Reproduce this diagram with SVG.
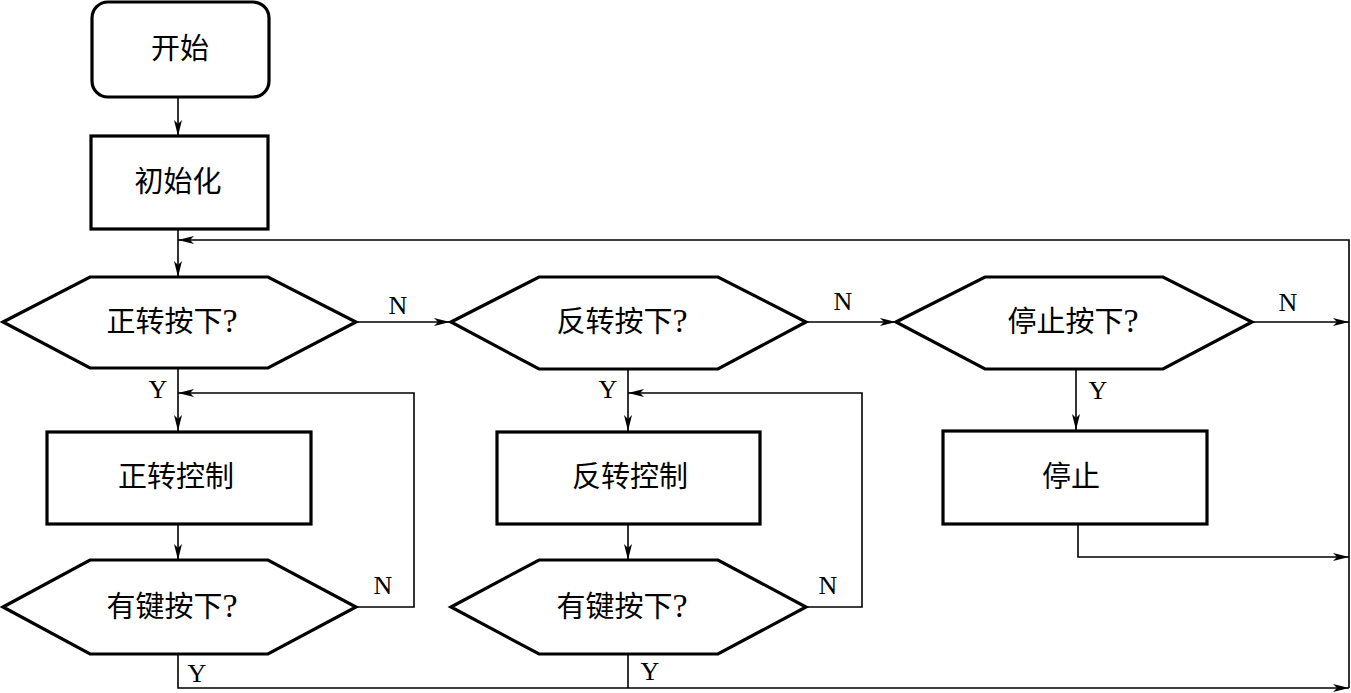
<svg xmlns="http://www.w3.org/2000/svg" width="1351" height="693" viewBox="0 0 1351 693">
<style>
.n{fill:#fff;stroke:#000;stroke-width:3.2;stroke-linejoin:miter}
.t{font-family:"Liberation Serif","Noto Sans CJK SC",serif;font-size:29px;text-anchor:middle;fill:#000}
.q{font-size:34px}
.l{font-family:"Liberation Serif",serif;font-size:26px;text-anchor:middle;fill:#000}
.c{fill:none;stroke:#000;stroke-width:1.6}
</style>
<defs>
<marker id="a" markerUnits="userSpaceOnUse" markerWidth="18" markerHeight="10" refX="16" refY="4" orient="auto">
<path d="M0,0 L16,4 L0,8 L4,4 z" fill="#000"/>
</marker>
</defs>
<rect width="1351" height="693" fill="#fff"/>
<g id="connectors">
<path class="c" d="M178,97 V136" marker-end="url(#a)"/>
<path class="c" d="M178,229 V277" marker-end="url(#a)"/>
<path class="c" d="M1349,557 V240 H178" marker-end="url(#a)"/>
<path class="c" d="M356,322 H450" marker-end="url(#a)"/>
<path class="c" d="M806,322 H896" marker-end="url(#a)"/>
<path class="c" d="M1252,322 H1349" marker-end="url(#a)"/>
<path class="c" d="M178,368 V431" marker-end="url(#a)"/>
<path class="c" d="M178,524 V560" marker-end="url(#a)"/>
<path class="c" d="M356,607 H414 V393 H178" marker-end="url(#a)"/>
<path class="c" d="M628,369 V431" marker-end="url(#a)"/>
<path class="c" d="M628,524 V560" marker-end="url(#a)"/>
<path class="c" d="M806,607 H862 V393 H628" marker-end="url(#a)"/>
<path class="c" d="M1076,369 V430" marker-end="url(#a)"/>
<path class="c" d="M1078,524 V557 H1349" marker-end="url(#a)"/>
<path class="c" d="M178,654 V688 H1349" marker-end="url(#a)"/>
<path class="c" d="M628,654 V688"/>
<path class="c" d="M1349,557 V688"/>
<text class="l" x="398" y="314">N</text>
<text class="l" x="843" y="310">N</text>
<text class="l" x="1288" y="311">N</text>
<text class="l" x="158" y="398">Y</text>
<text class="l" x="608" y="398">Y</text>
<text class="l" x="1098" y="399">Y</text>
<text class="l" x="383" y="594">N</text>
<text class="l" x="828" y="594">N</text>
<text class="l" x="197" y="682">Y</text>
<text class="l" x="650" y="680">Y</text>
</g>
<g id="start"><rect class="n" x="92" y="2" width="177" height="95" rx="16"/><text class="t" x="180" y="59">开始</text></g>
<g id="init"><rect class="n" x="91" y="136" width="177" height="93"/><text class="t" x="178" y="192">初始化</text></g>
<g id="fwdq"><polygon class="n" points="3,322 90,277 268,277 356,322 268,368 90,368"/><text class="t" x="172" y="332">正转按下<tspan class="q">?</tspan></text></g>
<g id="revq"><polygon class="n" points="451,322 539,277 718,277 806,322 718,369 539,369"/><text class="t" x="622" y="332">反转按下<tspan class="q">?</tspan></text></g>
<g id="stopq"><polygon class="n" points="896,322 985,277 1163,277 1252,322 1163,369 985,369"/><text class="t" x="1073" y="332">停止按下<tspan class="q">?</tspan></text></g>
<g id="fwd"><rect class="n" x="47" y="432" width="264" height="92"/><text class="t" x="176" y="487">正转控制</text></g>
<g id="rev"><rect class="n" x="497" y="432" width="263" height="92"/><text class="t" x="630" y="487">反转控制</text></g>
<g id="stop"><rect class="n" x="943" y="431" width="264" height="93"/><text class="t" x="1071" y="487">停止</text></g>
<g id="key1"><polygon class="n" points="3,607 90,560 268,560 356,607 268,654 90,654"/><text class="t" x="172" y="617">有键按下<tspan class="q">?</tspan></text></g>
<g id="key2"><polygon class="n" points="451,607 539,560 718,560 806,607 718,654 539,654"/><text class="t" x="622" y="617">有键按下<tspan class="q">?</tspan></text></g>
</svg>
